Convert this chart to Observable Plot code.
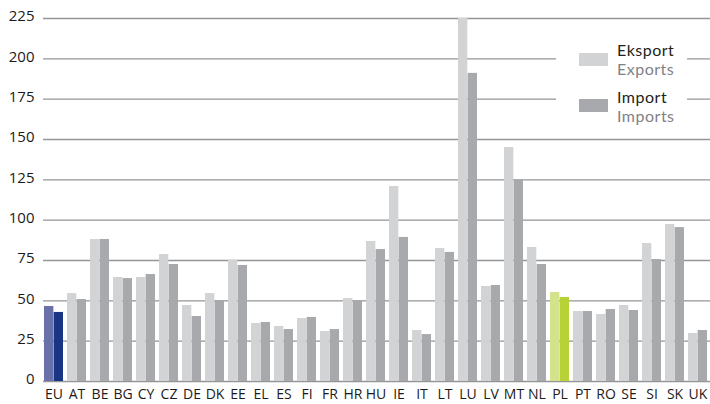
<!DOCTYPE html>
<html>
<head>
<meta charset="utf-8">
<script src="https://cdn.jsdelivr.net/npm/d3@7"></script>
<script src="https://cdn.jsdelivr.net/npm/@observablehq/plot@0.6"></script>
<style>
  body { margin: 0; background: #fff; }
  #wrap { position: relative; width: 710px; height: 404px; font-family: "Open Sans", sans-serif; }
  #legendBox { position: absolute; left: 556px; top: 40px; width: 131px; height: 88px; background: #fff; }
  .sw { position: absolute; left: 579px; width: 29px; height: 13px; }
  .lt { position: absolute; left: 617px; font-family: Lato, "Open Sans", sans-serif; font-size: 16px; line-height: 19.3px; letter-spacing: 0.5px; white-space: nowrap; }
  .pl { color: #231f20; }
  .en { color: #808285; }
</style>
</head>
<body>
<div id="wrap">
  <div id="chart"></div>
  <div id="legendBox"></div>
</div>
<script>
const countries = ["EU","AT","BE","BG","CY","CZ","DE","DK","EE","EL","ES","FI","FR","HR","HU","IE","IT","LT","LU","LV","MT","NL","PL","PT","RO","SE","SI","SK","UK"];
const exportsValues = [46.5,54.5,88.0,64.5,64.5,78.7,47.1,54.5,75.2,36.0,34.1,39.0,31.0,51.4,86.8,120.9,31.6,82.4,225.0,58.9,145.0,83.1,55.2,43.4,41.5,47.1,85.5,97.3,29.8];
const importsValues = [42.8,50.8,88.0,63.8,66.3,72.5,40.3,50.2,71.9,36.6,32.2,39.7,32.2,50.2,81.8,89.3,29.1,80.0,191.0,59.5,125.0,72.5,52.1,43.4,44.6,44.0,75.6,95.4,31.6];
const yTicks = [0,25,50,75,100,125,150,175,200,225];
const legendItems = [
  {pl: "Eksport", en: "Exports", color: "#d1d3d4"},
  {pl: "Import", en: "Imports", color: "#a7a9ac"}
];

const exportColor = c => c === "EU" ? "#6a70a9" : c === "PL" ? "#d3e38b" : "#d1d3d4";
const importColor = c => c === "EU" ? "#1b3585" : c === "PL" ? "#b6d236" : "#a7a9ac";

const half = 23 * 0.84 / 2;

const chart = Plot.plot({
  width: 710,
  height: 404,
  marginLeft: 43,
  marginRight: 0,
  marginTop: 18,
  marginBottom: 23,
  style: { fontFamily: "Open Sans", color: "#1d1a1b", background: "#fff" },
  x: { type: "band", domain: countries, paddingInner: 0.16, paddingOuter: 0.08, align: 0.27 },
  y: { domain: [0, 225] },
  color: { type: "identity" },
  marks: [
    Plot.ruleY(yTicks, { stroke: "#959595", strokeWidth: 1.3 }),
    Plot.barY(exportsValues, { x: (d, i) => countries[i], y: d => d, fill: (d, i) => exportColor(countries[i]), insetRight: half }),
    Plot.barY(importsValues, { x: (d, i) => countries[i], y: d => d, fill: (d, i) => importColor(countries[i]), insetLeft: half }),
    Plot.axisY(yTicks, { tickSize: 0, tickPadding: 9, fontSize: 15, dy: -2, label: null }),
    Plot.axisX({ tickSize: 0, tickPadding: 8, fontSize: 14, label: null })
  ]
});
document.getElementById("chart").appendChild(chart);

const wrap = document.getElementById("wrap");
const swTops = [53, 99];
const textTops = [40, 87];
legendItems.forEach((it, k) => {
  const sw = document.createElement("div");
  sw.className = "sw";
  sw.style.top = swTops[k] + "px";
  sw.style.background = it.color;
  wrap.appendChild(sw);
  const t = document.createElement("div");
  t.className = "lt";
  t.style.top = textTops[k] + "px";
  t.innerHTML = `<div class="pl">${it.pl}</div><div class="en">${it.en}</div>`;
  wrap.appendChild(t);
});
</script>
</body>
</html>
